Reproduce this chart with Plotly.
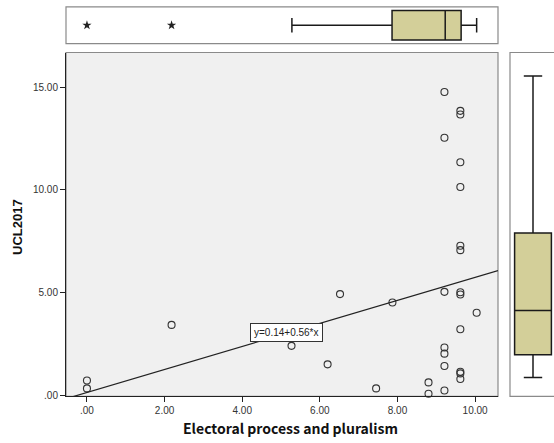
import plotly.graph_objects as go

# ---- data ----
x_vals = [9.21, 9.62, 9.62, 9.21, 9.62, 9.62, 9.62, 9.62, 9.21, 9.62, 9.62, 7.87, 10.04,
          9.62, 9.21, 9.21, 9.21, 9.62, 9.62, 9.62, 8.80, 8.80, 9.21,
          2.18, 0.00, 0.00, 5.27, 6.20, 7.45, 6.52]
y_vals = [14.77, 13.85, 13.67, 12.54, 11.35, 10.14, 7.28, 7.07, 5.04, 5.02, 4.91, 4.52, 4.02,
          3.22, 2.33, 2.03, 1.43, 1.15, 1.07, 0.80, 0.63, 0.08, 0.24,
          3.43, 0.72, 0.34, 2.41, 1.51, 0.34, 4.93]

fit_intercept = 0.14
fit_slope = 0.56
fit_label = "y=0.14+0.56*x"

# box statistics (x variable, top) and (y variable, right)
x_box = dict(q1=7.86, median=9.23, q3=9.64, lowerfence=5.28, upperfence=10.04)
x_outliers = [0.00, 2.18]
y_box = dict(q1=1.98, median=4.13, q3=7.91, lowerfence=0.87, upperfence=15.55)

x_ticks = [0, 2, 4, 6, 8, 10]
x_ticklabels = [".00", "2.00", "4.00", "6.00", "8.00", "10.00"]
y_ticks = [0, 5, 10, 15]
y_ticklabels = [".00", "5.00", "10.00", "15.00"]

x_title = "Electoral process and pluralism"
y_title = "UCL2017"

# ---- layout geometry ----
W, H = 554, 443
def px(v): return v / W
def py(v): return (H - v) / H

x_range = [-0.54, 10.59]
y_range = [-0.05, 16.69]

box_fill = "#D3CF99"
frame_col = "#8a8a8a"

fig = go.Figure()

# scatter points
fig.add_trace(go.Scatter(
    x=x_vals, y=y_vals, mode="markers", xaxis="x", yaxis="y",
    marker=dict(symbol="circle-open", size=7, color="#333333", line=dict(width=1.1)),
    showlegend=False, hoverinfo="skip", cliponaxis=False))

# fit line
fx = [x_range[0], x_range[1]]
fy = [fit_intercept + fit_slope * v for v in fx]
fig.add_trace(go.Scatter(x=fx, y=fy, mode="lines", xaxis="x", yaxis="y",
                         line=dict(color="#222222", width=1.2), showlegend=False,
                         hoverinfo="skip"))

# top box plot
fig.add_trace(go.Box(
    orientation="h", y=[0], q1=[x_box["q1"]], median=[x_box["median"]], q3=[x_box["q3"]],
    lowerfence=[x_box["lowerfence"]], upperfence=[x_box["upperfence"]],
    xaxis="x2", yaxis="y2", fillcolor=box_fill, width=0.8, whiskerwidth=0.5,
    line=dict(color="#1a1a1a", width=1.5), showlegend=False, hoverinfo="skip"))
fig.add_trace(go.Scatter(
    x=x_outliers, y=[0] * len(x_outliers), mode="markers", xaxis="x2", yaxis="y2",
    marker=dict(symbol="star", size=7, color="#222222"), showlegend=False, hoverinfo="skip"))

# right box plot
fig.add_trace(go.Box(
    x=[0], q1=[y_box["q1"]], median=[y_box["median"]], q3=[y_box["q3"]],
    lowerfence=[y_box["lowerfence"]], upperfence=[y_box["upperfence"]],
    xaxis="x3", yaxis="y3", fillcolor=box_fill, width=0.8, whiskerwidth=0.5,
    line=dict(color="#1a1a1a", width=1.5), showlegend=False, hoverinfo="skip"))

tickfont = dict(family="Liberation Sans, Arial", size=10, color="#333333")

fig.update_layout(
    width=W, height=H, margin=dict(l=0, r=0, t=0, b=0),
    paper_bgcolor="white", plot_bgcolor="rgba(0,0,0,0)",
    xaxis=dict(domain=[px(66), px(498)], range=x_range, tickvals=x_ticks, ticktext=x_ticklabels,
               ticks="outside", ticklen=5, tickcolor="#222", showline=True, linecolor="#222",
               linewidth=1, showgrid=False, zeroline=False, tickfont=tickfont, anchor="y"),
    yaxis=dict(domain=[py(400), py(53)], range=y_range, tickvals=y_ticks, ticktext=y_ticklabels,
               ticks="outside", ticklen=5, tickcolor="#222", showline=True, linecolor="#222",
               linewidth=1, showgrid=False, zeroline=False, tickfont=tickfont, anchor="x"),
    xaxis2=dict(domain=[px(66), px(498)], range=x_range, visible=False, anchor="y2"),
    yaxis2=dict(domain=[py(44), py(7)], range=[-0.5, 0.5], visible=False, anchor="x2"),
    xaxis3=dict(domain=[px(510), 1.0], range=[-0.5, 0.4565], visible=False, anchor="y3"),
    yaxis3=dict(domain=[py(400), py(53)], range=y_range, visible=False, anchor="x3"),
    shapes=[
        dict(type="rect", xref="paper", yref="paper", x0=px(66), x1=px(498), y0=py(400), y1=py(53),
             fillcolor="#F0F0F0", line=dict(color=frame_col, width=1.2), layer="below"),
        dict(type="rect", xref="paper", yref="paper", x0=px(66), x1=px(498), y0=py(44), y1=py(7),
             fillcolor="white", line=dict(color=frame_col, width=1.2), layer="below"),
        dict(type="rect", xref="paper", yref="paper", x0=px(510), x1=px(560), y0=py(400), y1=py(53),
             fillcolor="white", line=dict(color=frame_col, width=1.2), layer="below"),
    ],
    annotations=[
        dict(x=5.15, y=3.04, xref="x", yref="y", text=fit_label, showarrow=False,
             bgcolor="white", bordercolor="#333", borderwidth=1, borderpad=3,
             font=dict(family="Liberation Sans, Arial", size=10, color="#222")),
        dict(x=px(290), y=py(432), xref="paper", yref="paper", text="<b>" + x_title + "</b>",
             showarrow=False, xanchor="center", yanchor="middle",
             font=dict(family="Noto Sans CJK KR, Noto Sans", size=14, color="#111")),
        dict(x=px(18), y=py(229), xref="paper", yref="paper", text="<b>" + y_title + "</b>",
             showarrow=False, textangle=-90, xanchor="center", yanchor="middle",
             font=dict(family="Liberation Sans, Arial", size=13, color="#111")),
    ],
)

fig.write_html("out.html", config={"displayModeBar": False},
               post_script="document.body.style.margin='0';")
